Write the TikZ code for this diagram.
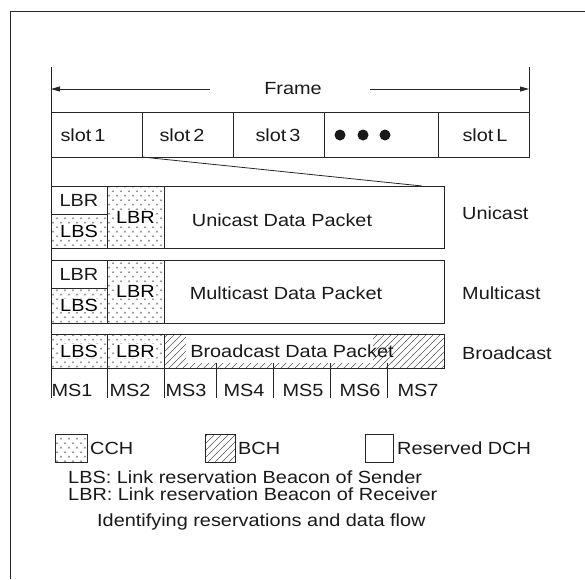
\documentclass[tikz,border=0pt]{standalone}
\usepackage{fontspec}
\setmainfont{Liberation Sans}[FakeStretch=1.13]
\usetikzlibrary{patterns,arrows.meta}
\pgfdeclarepatternformonly{carets}{\pgfqpoint{-1pt}{-1pt}}{\pgfqpoint{9pt}{10pt}}{\pgfqpoint{8pt}{9pt}}{%
  \pgfsetlinewidth{0.5pt}%
  \pgfpathmoveto{\pgfqpoint{0pt}{0pt}}\pgfpathlineto{\pgfqpoint{1pt}{1.5pt}}\pgfpathlineto{\pgfqpoint{2pt}{0pt}}%
  \pgfpathmoveto{\pgfqpoint{4pt}{4.5pt}}\pgfpathlineto{\pgfqpoint{5pt}{6pt}}\pgfpathlineto{\pgfqpoint{6pt}{4.5pt}}%
  \pgfusepath{stroke}}
\pgfdeclarepatternformonly{hatch}{\pgfqpoint{-1pt}{-1pt}}{\pgfqpoint{8pt}{8pt}}{\pgfqpoint{7pt}{7pt}}{%
  \pgfsetlinewidth{0.5pt}%
  \pgfpathmoveto{\pgfqpoint{-0.5pt}{-0.5pt}}\pgfpathlineto{\pgfqpoint{7.5pt}{7.5pt}}%
  \pgfusepath{stroke}}
\begin{document}
\begin{tikzpicture}[x=1pt,y=-1pt,
  font=\fontsize{17.6}{20}\selectfont,
  box/.style={draw=black!85, line width=0.8pt, inner sep=0pt, outer sep=0pt, anchor=north west},
  cch/.style={pattern=carets, pattern color=black!55},
  bch/.style={pattern=hatch, pattern color=black!65},
  lbl/.style={inner sep=0.6pt, fill=white},
  txt/.style={inner sep=0pt, text=black!90},
  ln/.style={draw=black!85, line width=0.8pt}]
\useasboundingbox (0,0) rectangle (585,579);
% outer frame
\draw[ln] (10,579) -- (10,11) -- (585,11);

% frame arrow
\coordinate (fL) at (51,89);
\coordinate (fR) at (529,89);
\coordinate (fl) at (210,89);
\coordinate (fr) at (370,89);
\node[txt] (frame) at (293,89) {Frame};
\draw[ln, -{Triangle[length=9pt,width=5pt]}] (fl) -- (fL);
\draw[ln, -{Triangle[length=9pt,width=5pt]}] (fr) -- (fR);

% slots
\node[box, minimum width=91pt, minimum height=45pt] (s1) at (51,112) {};
\node[box, minimum width=91pt, minimum height=45pt] (s2) at (142,112) {};
\node[box, minimum width=91pt, minimum height=45pt] (s3) at (233,112) {};
\node[box, minimum width=114pt, minimum height=45pt] (s4) at (324,112) {};
\node[box, minimum width=91pt, minimum height=45pt] (s5) at (438,112) {};
\node[txt] (t1) at (83,135) {slot\,1};
\node[txt] (t2) at (182,135) {slot\,2};
\node[txt] (t3) at (278,135) {slot\,3};
\node[txt] (t5) at (485,135) {slot\,L};
\fill[black!90] (340,135) circle (5.5pt) (363,135) circle (5.5pt) (385,135) circle (5.5pt);

% vertical guides
\coordinate (lt) at (51,67);
\coordinate (lb) at (51,398);
\coordinate (rt) at (529,67);
\draw[ln] (lt) -- (lb);
\draw[ln] (rt) -- (s5.north east);
\coordinate (zoomend) at (422,186);
\draw[ln] (s1.south east) -- (zoomend);

% unicast
\node[box, minimum width=393pt, minimum height=62pt] (uni) at (51,186) {};
\node[box, minimum width=56pt, minimum height=28pt] (uA) at (51,186) {};
\node[box, cch, minimum width=56pt, minimum height=34pt] (uB) at (51,214) {};
\node[box, cch, minimum width=57pt, minimum height=62pt] (uC) at (107,186) {};
\node[txt] (uAt) at (uA.center) {LBR};
\node[lbl] (uBt) at (uB.center) {LBS};
\node[lbl] (uCt) at (uC.center) {LBR};
\node[txt] (unit) at (282,220) {Unicast Data Packet};
\node[txt, anchor=west] (unil) at (462,213) {Unicast};

% multicast
\node[box, minimum width=393pt, minimum height=63pt] (mul) at (51,260) {};
\node[box, minimum width=56pt, minimum height=28pt] (mA) at (51,260) {};
\node[box, cch, minimum width=56pt, minimum height=35pt] (mB) at (51,288) {};
\node[box, cch, minimum width=57pt, minimum height=63pt] (mC) at (107,260) {};
\node[txt] (mAt) at (mA.center) {LBR};
\node[lbl] (mBt) at (mB.center) {LBS};
\node[lbl] (mCt) at (mC.center) {LBR};
\node[txt] (mult) at (286,293) {Multicast Data Packet};
\node[txt, anchor=west] (mull) at (462,293) {Multicast};

% broadcast
\node[box, cch, minimum width=56pt, minimum height=34pt] (bA) at (51,334) {};
\node[box, cch, minimum width=57pt, minimum height=34pt] (bB) at (107,334) {};
\node[box, bch, minimum width=280pt, minimum height=34pt] (bC) at (164,334) {};
\fill[white] (186,334.8) rectangle (373,363);
\draw[ln] (bC.north west) -- (bC.north east);
\node[lbl] (bAt) at (bA.center) {LBS};
\node[lbl] (bBt) at (bB.center) {LBR};
\node[txt] (brot) at (292,351) {Broadcast Data Packet};
\node[txt, anchor=west] (brol) at (462,353) {Broadcast};

% mini-slots
\draw[ln] (107,368) -- (107,398);
\draw[ln] (164,368) -- (164,398);
\draw[ln] (216,363) -- (216,398);
\draw[ln] (273,363) -- (273,398);
\draw[ln] (330,363) -- (330,398);
\draw[ln] (387,363) -- (387,398);
\node[txt] (ms1) at (72,390) {MS1};
\node[txt] (ms2) at (130,390) {MS2};
\node[txt] (ms3) at (186,390) {MS3};
\node[txt] (ms4) at (244,390) {MS4};
\node[txt] (ms5) at (303,390) {MS5};
\node[txt] (ms6) at (360,390) {MS6};
\node[txt] (ms7) at (418,390) {MS7};

% legend
\node[box, cch, minimum width=32pt, minimum height=28pt] (lg1) at (55,434) {};
\node[txt, anchor=west] (lg1t) at (90,448) {CCH};
\node[box, bch, minimum width=30pt, minimum height=28pt] (lg2) at (205,434) {};
\node[txt, anchor=west] (lg2t) at (238,448) {BCH};
\node[box, minimum width=28pt, minimum height=28pt] (lg3) at (365,434) {};
\node[txt, anchor=west] (lg3t) at (397,448) {Reserved DCH};

\node[txt, anchor=west] (d1) at (68,477) {LBS: Link reservation Beacon of Sender};
\node[txt, anchor=west] (d2) at (68,494) {LBR: Link reservation Beacon of Receiver};
\node[txt, anchor=west] (cap) at (97,522) {Identifying reservations and data flow};
\end{tikzpicture}
\end{document}
